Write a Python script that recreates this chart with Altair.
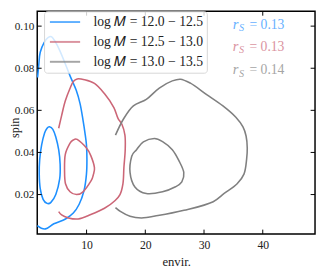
import altair as alt
import pandas as pd

# ---------------- data ----------------
groups = ["log 𝑀 = 12.0 − 12.5", "log 𝑀 = 12.5 − 13.0", "log 𝑀 = 13.0 − 13.5"]
colors = ["#1E90FF", "#CC6677", "#808080"]
r_values = ["0.13", "0.13", "0.14"]

x_ticks = [10, 20, 30, 40]
y_ticks = [0.02, 0.04, 0.06, 0.08, 0.10]

blue_outer_x = [1.61, 2.30, 3.00, 4.43, 6.41, 7.74, 8.74, 9.57, 9.98, 10.06, 9.98, 9.73, 9.40, 8.90, 8.24, 7.24, 6.25, 5.42, 4.76, 4.00, 3.43, 2.77, 2.11, 1.86, 1.66]
blue_outer_y = [0.0052, 0.0040, 0.0037, 0.0061, 0.0084, 0.0112, 0.0154, 0.0219, 0.0297, 0.0367, 0.0436, 0.0492, 0.0552, 0.0631, 0.0695, 0.0760, 0.0830, 0.0885, 0.0922, 0.0950, 0.0945, 0.0922, 0.0876, 0.0816, 0.0756]
blue_inner_x = [3.68, 4.26, 4.76, 5.25, 5.50, 5.42, 4.76, 3.93, 3.27, 2.60, 2.11, 1.94, 2.02, 2.35, 2.85, 3.27]
blue_inner_y = [0.0522, 0.0510, 0.0473, 0.0413, 0.0344, 0.0274, 0.0200, 0.0163, 0.0158, 0.0177, 0.0228, 0.0297, 0.0367, 0.0436, 0.0492, 0.0515]

red_outer_x = [5.25, 5.75, 6.37, 7.19, 7.74, 8.40, 9.68, 11.34, 13.00, 14.65, 15.37, 16.03, 16.53, 16.58, 16.36, 16.19, 15.69, 14.87, 13.05, 10.72, 8.57, 6.91, 5.75, 5.25]
red_outer_y = [0.0515, 0.0575, 0.0644, 0.0705, 0.0737, 0.0749, 0.0745, 0.0728, 0.0681, 0.0613, 0.0561, 0.0533, 0.0482, 0.0413, 0.0330, 0.0251, 0.0200, 0.0172, 0.0135, 0.0105, 0.0084, 0.0089, 0.0103, 0.0119]
red_inner_x = [8.40, 9.95, 10.72, 11.34, 11.14, 10.78, 9.40, 8.29, 7.19, 6.41, 6.25, 6.37, 7.19, 7.74]
red_inner_y = [0.0462, 0.0422, 0.0385, 0.0328, 0.0293, 0.0266, 0.0213, 0.0200, 0.0213, 0.0251, 0.0313, 0.0390, 0.0444, 0.0459]

gray_outer_x = [14.92, 16.31, 17.97, 20.17, 22.38, 24.60, 25.97, 27.68, 30.45, 33.22, 35.42, 36.63, 37.16, 37.36, 37.25, 36.80, 35.64, 33.43, 31.56, 26.59, 22.16, 19.34, 17.40, 15.75, 14.92]
gray_outer_y = [0.0482, 0.0560, 0.0621, 0.0652, 0.0706, 0.0740, 0.0748, 0.0729, 0.0675, 0.0621, 0.0567, 0.0521, 0.0478, 0.0421, 0.0367, 0.0297, 0.0251, 0.0205, 0.0166, 0.0125, 0.0100, 0.0089, 0.0097, 0.0120, 0.0138]
gray_inner_x = [21.55, 22.94, 24.60, 25.76, 26.55, 26.22, 25.15, 22.94, 20.17, 18.23, 17.40, 17.69, 18.51, 19.67]
gray_inner_y = [0.0466, 0.0451, 0.0413, 0.0359, 0.0305, 0.0260, 0.0237, 0.0213, 0.0205, 0.0236, 0.0305, 0.0382, 0.0413, 0.0450]

# annotation anchor (data units) for the r_S labels
ann_x = 34.87
ann_y = [0.0987, 0.0884, 0.0771]

x_domain = [1.6, 48.9]
y_domain = [0.00125, 0.10704]

# ---------------- build tables ----------------
contours = [
    (0, "outer", False, blue_outer_x, blue_outer_y),
    (0, "inner", True, blue_inner_x, blue_inner_y),
    (1, "outer", False, red_outer_x, red_outer_y),
    (1, "inner", True, red_inner_x, red_inner_y),
    (2, "outer", False, gray_outer_x, gray_outer_y),
    (2, "inner", True, gray_inner_x, gray_inner_y),
]
rows = []
for g, name, closed, xs_, ys_ in contours:
    for i, (xv, yv) in enumerate(zip(xs_, ys_)):
        rows.append({"group": groups[g], "cid": f"{g}-{name}", "closed": closed,
                     "i": i, "envir": xv, "spin": yv})
df = pd.DataFrame(rows)

ann = pd.DataFrame({"x": [ann_x] * 3, "y": ann_y, "val": ["= " + v for v in r_values],
                    "color": colors})
xt = pd.DataFrame({"v": x_ticks})
yt = pd.DataFrame({"v": y_ticks})

W, H = 285, 228.5
FONT = "Liberation Serif"

xs = alt.Scale(domain=x_domain, nice=False, zero=False)
ys = alt.Scale(domain=y_domain, nice=False, zero=False)

color = alt.Color(
    "group:N",
    scale=alt.Scale(domain=groups, range=colors),
    legend=alt.Legend(
        orient="none", legendX=7, legendY=0, title=None,
        symbolType="M-1,0H5.2", symbolSize=100, symbolStrokeWidth=2,
        labelFont=FONT, labelFontSize=14, labelOffset=32.7, labelColor="#222",
        padding=4, cornerRadius=3, strokeColor="#d6d6d6",
        fillColor="rgba(255,255,255,0.8)", rowPadding=6.4,
    ),
)

base = alt.Chart(df)
open_lines = base.transform_filter("!datum.closed").mark_line(
    interpolate="catmull-rom", strokeWidth=1.6
).encode(
    x=alt.X("envir:Q", scale=xs, axis=alt.Axis(values=x_ticks, title="envir.")),
    y=alt.Y("spin:Q", scale=ys, axis=alt.Axis(values=y_ticks, format=".2f", title="spin",
                                              titleX=-16.5, titleY=119, titleBaseline="bottom",
                                              titleAngle=270, titleAlign="center",
                                              titleFontSize=12.5)),
    color=color,
    detail="cid:N",
    order="i:Q",
)
closed_lines = base.transform_filter("datum.closed").mark_line(
    interpolate="cardinal-closed", strokeWidth=1.6
).encode(
    x=alt.X("envir:Q", scale=xs),
    y=alt.Y("spin:Q", scale=ys),
    color=color,
    detail="cid:N",
    order="i:Q",
)

TL = 4.5
tick_b = alt.Chart(xt).mark_rule(color="black", strokeWidth=1).encode(
    x=alt.X("v:Q", scale=xs), y=alt.value(H), y2=alt.value(H - TL))
tick_t = alt.Chart(xt).mark_rule(color="black", strokeWidth=1).encode(
    x=alt.X("v:Q", scale=xs), y=alt.value(0), y2=alt.value(TL))
tick_l = alt.Chart(yt).mark_rule(color="black", strokeWidth=1).encode(
    y=alt.Y("v:Q", scale=ys), x=alt.value(0), x2=alt.value(TL))
tick_r = alt.Chart(yt).mark_rule(color="black", strokeWidth=1).encode(
    y=alt.Y("v:Q", scale=ys), x=alt.value(W), x2=alt.value(W - TL))

ann_base = alt.Chart(ann).encode(
    x=alt.X("x:Q", scale=xs), y=alt.Y("y:Q", scale=ys),
    color=alt.Color("color:N", scale=None))
t_r = ann_base.mark_text(font=FONT, fontSize=15, fontStyle="italic", align="left",
                         baseline="alphabetic", opacity=0.7).encode(text=alt.value("r"))
t_s = ann_base.mark_text(font=FONT, fontSize=10.5, fontStyle="italic", align="left",
                         baseline="alphabetic", dx=6.6, dy=2.5, opacity=0.7).encode(text=alt.value("S"))
t_v = ann_base.mark_text(font=FONT, fontSize=14, align="left", baseline="alphabetic",
                         dx=17.3, opacity=0.7).encode(text="val:N")

chart = alt.layer(
    open_lines, closed_lines, tick_b, tick_t, tick_l, tick_r, t_r, t_s, t_v
).properties(
    width=W, height=H,
    autosize=alt.AutoSizeParams(type="none"),
    padding={"left": 30, "top": 0, "right": 1, "bottom": 33},
).configure_view(
    stroke="black", strokeWidth=1.5
).configure_axis(
    grid=False, ticks=False, tickSize=0, domain=False,
    labelFont=FONT, labelFontSize=12, labelColor="#222",
    titleFont=FONT, titleFontSize=13, titleFontWeight="normal", titleColor="#222",
).configure_axisX(
    labelPadding=6, titlePadding=5,
).configure_axisY(
    labelPadding=3.5, labelFontSize=11.5,
)

chart.save("out.html", embed_options={"renderer": "svg", "actions": False})
